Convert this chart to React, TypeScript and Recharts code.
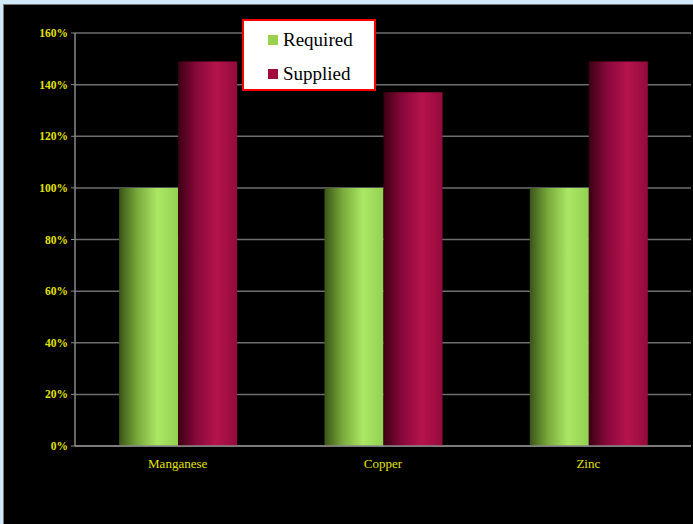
import React from "react";
import {
  BarChart,
  Bar,
  XAxis,
  YAxis,
  CartesianGrid,
  Legend,
} from "recharts";

const categories = ["Manganese", "Copper", "Zinc"];
const requiredPct = [100, 100, 100];
const suppliedPct = [149, 137, 149];
const yTicks = [0, 20, 40, 60, 80, 100, 120, 140, 160];

const data = categories.map((name, i) => ({
  name,
  required: requiredPct[i],
  supplied: suppliedPct[i],
}));

const YELLOW = "#e2e200";
const SERIF = '"Liberation Serif", "Times New Roman", serif';

function LegendBox() {
  const items = [
    { label: "Required", color: "#9ad04e" },
    { label: "Supplied", color: "#a00a3c" },
  ];
  return (
    <div
      style={{
        width: 130,
        height: 66,
        paddingTop: 2,
        background: "#ffffff",
        border: "2px solid #ff0000",
        fontFamily: SERIF,
        fontSize: 19,
        color: "#000",
        boxSizing: "content-box",
      }}
    >
      {items.map((it) => (
        <div
          key={it.label}
          style={{
            display: "flex",
            alignItems: "center",
            height: 34,
            paddingLeft: 24,
          }}
        >
          <span
            style={{
              display: "inline-block",
              width: 10,
              height: 10,
              background: it.color,
              marginRight: 5,
            }}
          />
          {it.label}
        </div>
      ))}
    </div>
  );
}

export default function App() {
  return (
    <div
      style={{
        position: "fixed",
        left: 0,
        top: 0,
        width: 693,
        height: 524,
        background: "#cfe9f9",
      }}
    >
      <div
        style={{
          position: "absolute",
          left: 3,
          top: 4,
          width: 690,
          height: 520,
          background: "#000",
          borderLeft: "1px solid #777",
          borderTop: "1px solid #777",
          boxSizing: "border-box",
        }}
      >
        <BarChart
          width={690}
          height={520}
          data={data}
          margin={{ top: 29, right: 2, bottom: 48, left: 0 }}
          barCategoryGap="21.5%"
          barGap={0}
          style={{ position: "absolute", left: -1, top: -1 }}
        >
          <defs>
            <linearGradient id="gGreen" x1="0" y1="0" x2="1" y2="0">
              <stop offset="0%" stopColor="#3a5418" />
              <stop offset="30%" stopColor="#78a83a" />
              <stop offset="65%" stopColor="#aae864" />
              <stop offset="100%" stopColor="#94d052" />
            </linearGradient>
            <linearGradient id="gRed" x1="0" y1="0" x2="1" y2="0">
              <stop offset="0%" stopColor="#3c0012" />
              <stop offset="30%" stopColor="#86083a" />
              <stop offset="65%" stopColor="#b6134c" />
              <stop offset="100%" stopColor="#940a3c" />
            </linearGradient>
          </defs>
          <CartesianGrid
            vertical={false}
            stroke="#6e6e6e"
            strokeWidth={1.5}
          />
          <XAxis
            dataKey="name"
            xAxisId="cat"
            axisLine={{ stroke: "#8a8a8a", strokeWidth: 1.5 }}
            tickLine={false}
            tick={{ fill: YELLOW, fontFamily: SERIF, fontSize: 13 }}
            tickMargin={7}
            height={30}
          />
          <XAxis
            xAxisId="edge"
            type="number"
            domain={[0, 3]}
            ticks={[0, 1, 2, 3]}
            axisLine={false}
            tick={false}
            tickLine={{ stroke: "#8a8a8a" }}
            tickSize={5}
            height={0}
          />
          <YAxis
            width={72}
            domain={[0, 160]}
            ticks={yTicks}
            interval={0}
            tickFormatter={(v: number) => `${v}%`}
            axisLine={{ stroke: "#8a8a8a", strokeWidth: 1.5 }}
            tickLine={{ stroke: "#8a8a8a" }}
            tickSize={4}
            tickMargin={3}
            tick={{
              fill: YELLOW,
              fontFamily: SERIF,
              fontSize: 11.5,
              fontWeight: "bold",
            }}
          />
          <Legend
            content={<LegendBox />}
            layout="vertical"
            align="center"
            verticalAlign="middle"
            wrapperStyle={{ left: 239, top: 15, width: "auto" }}
          />
          <Bar
            xAxisId="cat"
            dataKey="required"
            name="Required"
            fill="url(#gGreen)"
            isAnimationActive={false}
          />
          <Bar
            xAxisId="cat"
            dataKey="supplied"
            name="Supplied"
            fill="url(#gRed)"
            isAnimationActive={false}
          />
        </BarChart>
      </div>
    </div>
  );
}
